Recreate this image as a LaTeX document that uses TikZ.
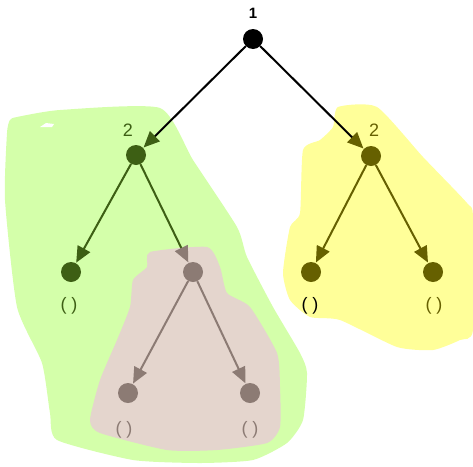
\documentclass[tikz,border=0pt]{standalone}
\usepackage{fontspec}
\setmainfont{Liberation Sans}
\usetikzlibrary{arrows.meta}
\definecolor{gblob}{HTML}{D4FFAA}
\definecolor{yblob}{HTML}{FFFF99}
\definecolor{bblob}{HTML}{E4D5CD}
\definecolor{gcol}{HTML}{3D5F14}
\definecolor{ycol}{HTML}{666000}
\definecolor{bcol}{HTML}{8C7B74}
\tikzset{
  dot/.style={circle, minimum size=20pt, inner sep=0pt, draw=none},
  lab/.style={inner sep=0pt, font=\Large, scale=1.25, transform shape},
  rootlab/.style={inner sep=0pt, font=\large\bfseries, scale=1.25, transform shape},
  edge/.style={line width=2pt, shorten >=0.5pt},
  tipg/.style={-{Triangle[length=16pt,width=14pt,color=gcol]}},
  tipy/.style={-{Triangle[length=16pt,width=14pt,color=ycol]}},
  tipb/.style={-{Triangle[length=16pt,width=14pt,color=bcol]}},
}
\begin{document}
\begin{tikzpicture}[x=1pt,y=-1pt]
\useasboundingbox (0,0) rectangle (473,466);
% blobs
\fill[gblob] plot[smooth cycle, tension=0.35] coordinates {
 (10,120) (17,117) (60,110) (160,108) (193,160) (237,227) (247,257)
 (273,307) (300,353) (307,373) (303,420) (287,443) (253,460) (200,463)
 (133,460) (57,440) (50,413) (42,363) (17,307) (5,200) (7,133)};
\fill[white] (40,127) -- (46,123) -- (54,124) -- (52,127) -- cycle;
\fill[yblob] plot[smooth cycle, tension=0.35] coordinates {
 (338,107) (377,107) (423,157) (467,203) (473,217) (473,330) (460,340)
 (433,350) (397,347) (340,320) (310,317) (290,300) (283,273) (290,227)
 (300,213) (303,150) (320,140) (333,127)};
\fill[bblob] plot[smooth cycle, tension=0.35] coordinates {
 (150,252) (207,247) (220,267) (227,293) (250,307) (277,353) (280,387)
 (280,427) (267,443) (217,450) (167,450) (100,433) (90,420) (100,380)
 (117,340) (130,307) (133,280) (147,267)};
% nodes
\node[dot, fill=black] (r) at (253,39) {};
\node[dot, fill=gcol] (a) at (136,155) {};
\node[dot, fill=ycol] (b) at (371,156) {};
\node[dot, fill=gcol] (a1) at (71,272) {};
\node[dot, fill=bcol] (a2) at (193,272) {};
\node[dot, fill=ycol] (b1) at (311,272) {};
\node[dot, fill=ycol] (b2) at (433,272) {};
\node[dot, fill=bcol] (c1) at (128,393) {};
\node[dot, fill=bcol] (c2) at (250,393) {};
% labels
\node[rootlab] (lr) at (253,13) {1};
\node[lab, text=gcol] (la) at (128,130) {2};
\node[lab, text=ycol] (lb) at (374,130) {2};
\node[lab, text=gcol] (la1) at (69,306) {( )};
\node[lab, text=black] (lb1) at (310,306) {( )};
\node[lab, text=ycol] (lb2) at (434,306) {( )};
\node[lab, text=bcol] (lc1) at (124,430) {( )};
\node[lab, text=bcol] (lc2) at (250,430) {( )};
% edges
\draw[edge, black, tipg] (r) -- (a);
\draw[edge, black, tipy] (r) -- (b);
\draw[edge, gcol, tipg] (a) -- (a1);
\draw[edge, gcol, tipb] (a) -- (a2);
\draw[edge, ycol, tipy] (b) -- (b1);
\draw[edge, ycol, tipy] (b) -- (b2);
\draw[edge, bcol, tipb] (a2) -- (c1);
\draw[edge, bcol, tipb] (a2) -- (c2);
\end{tikzpicture}
\end{document}
